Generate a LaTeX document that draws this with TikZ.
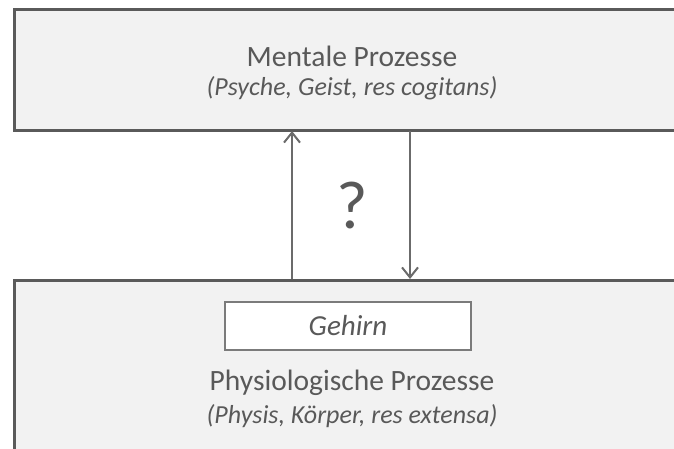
\documentclass[tikz,border=0pt]{standalone}
\usepackage{fontspec}
\setmainfont{Carlito}
\usetikzlibrary{arrows.meta, positioning}

\definecolor{boxfill}{HTML}{F2F2F2}
\definecolor{boxline}{HTML}{5A5A5A}
\definecolor{txtgray}{HTML}{595959}

\tikzset{
  bigbox/.style={draw=boxline, line width=3bp, fill=boxfill, inner sep=0pt,
    minimum width=678bp, anchor=north west},
  brainbox/.style={draw=boxline!80, line width=2.2bp, fill=white,
    minimum width=246bp, minimum height=48bp, inner sep=0pt,
    font=\fontsize{29bp}{32bp}\selectfont\itshape, text=txtgray},
  headtxt/.style={font=\fontsize{29.5bp}{34bp}\selectfont, text=txtgray, inner sep=0pt},
  subtxt/.style={font=\fontsize{26bp}{30bp}\selectfont\itshape, text=txtgray, inner sep=0pt},
  flow/.style={draw=boxline!90, line width=2bp, -{Straight Barb[length=10bp, width=16bp]}}
}

\begin{document}
\begin{tikzpicture}[x=1bp, y=-1bp]
\useasboundingbox (0,0) rectangle (674,449);
\clip (0,0) rectangle (674,449);

\node[bigbox, minimum height=121bp] (mental) at (13,8) {};
\node[bigbox, minimum height=200bp] (physis) at (13,279) {};

\node[headtxt] (mentalname) at (352,56) {Mentale Prozesse};
\node[subtxt] (mentalsub) at (352,88) {(Psyche, Geist, res cogitans)};

\node[brainbox] (gehirn) at (348,326) {Gehirn};
\node[headtxt] (physisname) at (352,383) {Physiologische Prozesse};
\node[subtxt] (physissub) at (352,416) {(Physis, Körper, res extensa)};

\node[font=\fontsize{68bp}{72bp}\selectfont, text=txtgray, inner sep=0pt] (frage) at (352,206) {?};

% Wechselwirkung
\coordinate (upfoot) at (292,279);
\coordinate (uphead) at (292,131);
\coordinate (downfoot) at (410,131);
\coordinate (downhead) at (410,279);
\draw[flow] (upfoot) -- (uphead);
\draw[flow] (downfoot) -- (downhead);
\end{tikzpicture}
\end{document}
